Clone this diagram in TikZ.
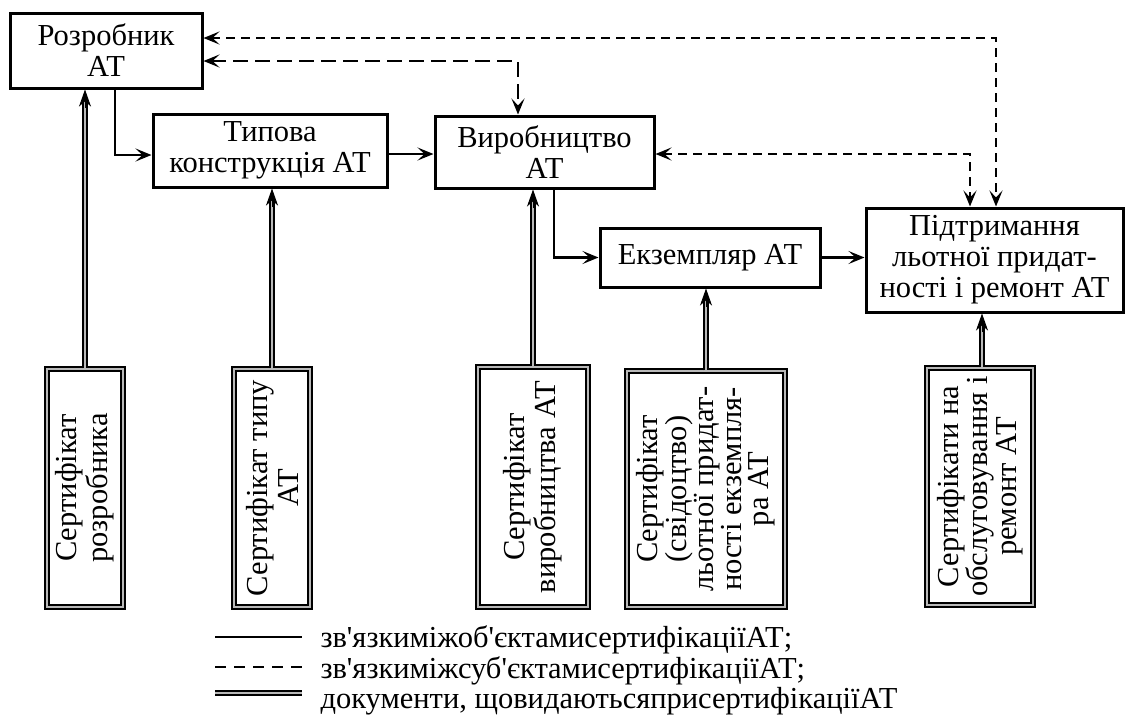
\documentclass[tikz,border=0pt]{standalone}
\usepackage{fontspec}
\setmainfont{Liberation Serif}[Ligatures=TeXOff]
\usetikzlibrary{arrows.meta}

\tikzset{
  unit/.style={draw, line width=3pt, align=center, inner sep=2pt},
  cert/.style={draw=black, line width=1.4pt, double=gray!55, double distance=2.6pt,
    rotate=90, align=center, inner sep=1pt},
  link/.style={line width=2.5pt, -{Stealth[length=16pt, width=13pt, inset=7pt]}},
  sublink/.style={line width=2.4pt, dash pattern=on 9pt off 6pt,
    {Stealth[length=16pt, width=13pt, inset=7pt]}-{Stealth[length=16pt, width=13pt, inset=7pt]}},
  doclink/.style={draw=black, line width=1.3pt, double=gray!55, double distance=2.6pt, shorten >=10pt},
  doctip/.style={line width=1pt, -{Stealth[length=17pt, width=12pt, inset=5pt]}}
}

\begin{document}
\begin{tikzpicture}[x=1pt, y=-1pt, every node/.style={font=\fontsize{30.5}{31}\selectfont}]
  \useasboundingbox (0,0) rectangle (1125,716);
  % Objects of certification
  \node[unit, minimum width=192pt, minimum height=75pt] (dev) at (106,50.5) {Розробник\\АТ};
  \node[unit, minimum width=234pt, minimum height=73pt] (type) at (270,150.5) {Типова\\конструкція АТ};
  \node[unit, minimum width=219pt, minimum height=72pt] (prod) at (544.5,152) {Виробництво\\АТ};
  \node[unit, minimum width=220pt, minimum height=59pt] (inst) at (710,257.5) {Екземпляр АТ};
  \node[unit, minimum width=257pt, minimum height=104pt] (supp) at (994.5,260)
    {Підтримання\\льотної придат-\\ності і ремонт АТ};
  % Certificates
  \node[cert, minimum width=238pt, minimum height=76pt] (devcert) at (85,488)
    {Сертифікат\\розробника};
  \node[cert, minimum width=238pt, minimum height=76pt] (typecert) at (272,488)
    {Сертифікат типу\\АТ};
  \node[cert, minimum width=240pt, minimum height=110pt] (prodcert) at (533,487)
    {Сертифікат\\виробництва АТ};
  \node[cert, minimum width=236pt, minimum height=158pt,
    font=\fontsize{30.5}{27.5}\selectfont] (instcert) at (706,489)
    {Сертифікат\\(свідоцтво)\\льотної придат-\\ності екземпля-\\ра АТ};
  \node[cert, minimum width=237pt, minimum height=106pt,
    font=\fontsize{30.5}{29}\selectfont] (suppcert) at (980,486.5)
    {Сертифікати на\\обслуговування і\\ремонт АТ};
  % Links between objects
  \draw[link] ([xshift=9pt]dev.south) |- ([yshift=-4.5pt]type.west);
  \draw[link] ([yshift=-3.5pt]type.east) -- ([yshift=-3.5pt]type.east -| prod.west);
  \draw[link] ([xshift=9.5pt]prod.south) |- (inst.west);
  \draw[link] (inst.east) -- (inst.east -| supp.west);
  % Links between subjects
  \draw[sublink] ([yshift=12.5pt]dev.east) -| ([xshift=1.5pt]supp.north);
  \draw[sublink, dash pattern=on 15pt off 7pt] ([yshift=-10.5pt]dev.east) -| ([xshift=-26.5pt]prod.north);
  \draw[sublink] ([yshift=-2pt]prod.east) -| ([xshift=-24.5pt]supp.north);
  % Documents
  \foreach \c/\o in {devcert/dev, typecert/type, prodcert/prod, instcert/inst} {
    \draw[doclink] (\c.east) -- (\c.east |- \o.south);
    \draw[doctip] ([yshift=-18pt]\c.east |- \o.south) -- (\c.east |- \o.south);
  }
  \draw[doclink] ([xshift=2pt]suppcert.east) -- ([xshift=2pt]suppcert.east |- supp.south);
  \draw[doctip] ([xshift=2pt, yshift=-18pt]suppcert.east |- supp.south) -- ([xshift=2pt]suppcert.east |- supp.south);
  % Legend
  \node[anchor=base west] (leg1) at (317,647) {зв'язкиміжоб'єктамисертифікаціїАТ;};
  \node[anchor=base west] (leg2) at (317,678) {зв'язкиміжсуб'єктамисертифікаціїАТ;};
  \node[anchor=base west] (leg3) at (317,708) {документи, щовидаютьсяприсертифікаціїАТ};
  \draw[line width=2.5pt] ([xshift=-102pt, yshift=10pt]leg1.base west) -- ([xshift=-15pt, yshift=10pt]leg1.base west);
  \draw[line width=2.4pt, dash pattern=on 11pt off 8pt] ([xshift=-102pt, yshift=11pt]leg2.base west) -- ([xshift=-15pt, yshift=11pt]leg2.base west);
  \draw[draw=black, line width=1.3pt, double=gray!55, double distance=2.6pt] ([xshift=-102pt, yshift=15pt]leg3.base west) -- ([xshift=-15pt, yshift=15pt]leg3.base west);
\end{tikzpicture}
\end{document}
